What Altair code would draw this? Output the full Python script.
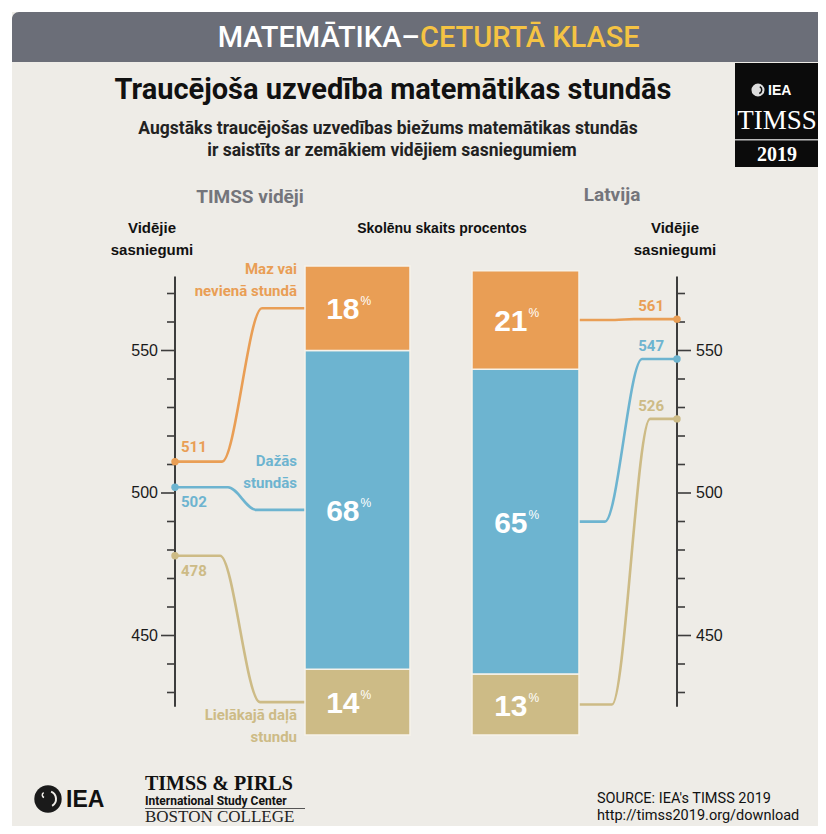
import altair as alt
import pandas as pd

# ---------------- data ----------------
categories = ["Maz vai nevienā stundā", "Dažās stundās", "Lielākajā daļā stundu"]
groups = ["TIMSS vidēji", "Latvija"]
pct_timss = [18, 68, 14]
pct_latvia = [21, 65, 13]
score_timss = [511, 502, 478]
score_latvia = [561, 547, 526]
tick_values = [430, 440, 450, 460, 470, 480, 490, 500, 510, 520, 530, 540, 550, 560, 570]
tick_labels = [450, 500, 550]

# ---------------- styles / layout ----------------
BAR_COLORS = ["#EDA257", "#6BADCA", "#D4BE80"]
LINE_COLORS = ["#E99E55", "#6DB4D0", "#CDBB86"]
BG = "#EEECE7"
FONT_C = "Roboto, sans-serif"
FONT_S = "Liberation Serif, DejaVu Serif, serif"
FONT_A = "Liberation Sans, Arial, sans-serif"

W, H = 810, 818
OX, OY = 8, 8


def px(x):
    return x - OX


def py(y):
    return y - OY


# score scale: 500 at page y=493, 2.85 px per point
S500, PPP = 493, 2.85
score_dom = [500 - (OY + H - S500) / PPP, 500 + (S500 - OY) / PPP]
# percent scale: 0% at page y=735, 4.69 px per percent
P0, PPC = 735, 4.69
pct_dom = [(P0 - (OY + H)) / PPC, (P0 - OY) / PPC]
x_dom = [OX, OX + W]


def score_of_pct(p):
    return 500 - ((P0 - p * PPC) - S500) / PPP


XS = alt.Scale(domain=x_dom, nice=False, zero=False)
YS = alt.Scale(domain=score_dom, nice=False, zero=False)
YP = alt.Scale(domain=pct_dom, nice=False, zero=False)

BAR_X = {"TIMSS vidēji": (305, 410), "Latvija": (472, 579)}
AXIS_X = {"TIMSS vidēji": 175, "Latvija": 677}
LEFT_KNOTS = [(222, 262), (228, 256), (220, 260)]
RIGHT_KNOTS = [(615, 634), (605, 642), (612, 650)]

# ---------------- tables ----------------
bar_rows, line_rows, dot_rows = [], [], []
for g, pcts, scores in [(groups[0], pct_timss, score_timss), (groups[1], pct_latvia, score_latvia)]:
    cum = 0
    mids = {}
    for i in [2, 1, 0]:  # stacked from bottom
        start, end = cum, cum + pcts[i]
        cum = end
        mids[i] = (start + end) / 2
        bar_rows.append(dict(group=g, cat=categories[i], ci=i, pct=pcts[i], start=start, end=end,
                             mid=mids[i], x0=BAR_X[g][0], x1=BAR_X[g][1],
                             xc=(BAR_X[g][0] + BAR_X[g][1]) / 2, label=str(pcts[i])))
    for i in range(3):
        ms = score_of_pct(mids[i])
        key = g + categories[i]
        if g == groups[0]:
            k1, k2 = LEFT_KNOTS[i]
            pts = [(AXIS_X[g], scores[i]), (k1, scores[i]), (k2, ms), (BAR_X[g][0], ms)]
        else:
            k1, k2 = RIGHT_KNOTS[i]
            pts = [(BAR_X[g][1], ms), (k1, ms), (k2, scores[i]), (AXIS_X[g], scores[i])]
        for o, (xx, ss) in enumerate(pts):
            line_rows.append(dict(key=key, cat=categories[i], ord=o, x=xx, s=ss))
        dot_rows.append(dict(group=g, cat=categories[i], ci=i, x=AXIS_X[g], s=scores[i],
                             label=str(scores[i])))

bars = pd.DataFrame(bar_rows)
lines = pd.DataFrame(line_rows)
dots = pd.DataFrame(dot_rows)

cat_bar = alt.Color("cat:N", scale=alt.Scale(domain=categories, range=BAR_COLORS), legend=None)
cat_line = alt.Color("cat:N", scale=alt.Scale(domain=categories, range=LINE_COLORS), legend=None)

one = pd.DataFrame({"a": [0]})


def rect(x0, x1, y0, y1, color, **kw):
    return alt.Chart(one).mark_rect(color=color, **kw).encode(
        x=alt.value(px(x0)), x2=alt.value(px(x1)), y=alt.value(py(y0)), y2=alt.value(py(y1)))


def text(s, x, y, size, color="#1a1a1a", align="center", weight="bold", font=FONT_C, baseline="middle"):
    return alt.Chart(pd.DataFrame({"t": [s]})).mark_text(
        align=align, baseline=baseline, fontSize=size, fontWeight=weight, font=font, color=color
    ).encode(x=alt.value(px(x)), y=alt.value(py(y)), text="t:N")


RIGHT_EDGE = OX + W
layers = []
# background panel and header band
layers.append(rect(12, RIGHT_EDGE, 12, OY + H, BG))
layers.append(rect(12, RIGHT_EDGE, 12, 62, "#6B6E78", cornerRadiusTopLeft=7))
layers.append(text("MATEMĀTIKA–", 420, 38, 29, color="white", align="right", weight=500))
layers.append(text("CETURTĀ KLASE", 420, 38, 29, color="#F5C343", align="left", weight=500))

# title / subtitle
layers.append(text("Traucējoša uzvedība matemātikas stundās", 393, 90, 29, color="#111111"))
layers.append(text("Augstāks traucējošas uzvedības biežums matemātikas stundās", 388, 129, 17.5, color="#222222"))
layers.append(text("ir saistīts ar zemākiem vidējiem sasniegumiem", 392, 151, 17.5, color="#222222"))

# TIMSS logo box
layers.append(rect(735, RIGHT_EDGE, 63, 167, "#0b0b0b"))
layers.append(rect(735, RIGHT_EDGE, 139, 140.5, "#bbbbbb"))
layers.append(alt.Chart(one).mark_circle(color="#dddddd", opacity=1, size=170).encode(
    x=alt.value(px(758)), y=alt.value(py(90))))
layers.append(alt.Chart(one).mark_arc(color="#0b0b0b", innerRadius=3, outerRadius=4.5).encode(
    x=alt.value(px(758)), y=alt.value(py(90)), theta=alt.value(0.5), theta2=alt.value(2.8)))
layers.append(text("IEA", 768, 91, 14, color="white", align="left", font=FONT_A))
layers.append(text("TIMSS", 777, 121, 27, color="white", weight="normal", font=FONT_S))
layers.append(text("2019", 777, 155, 20, color="white", weight="bold", font=FONT_S))

# group headings
layers.append(text("TIMSS vidēji", 250, 197, 19, color="#74757b"))
layers.append(text("Latvija", 612, 195, 19, color="#74757b"))
layers.append(text("Vidējie", 152, 228, 15, color="#111111", font=FONT_A))
layers.append(text("sasniegumi", 152, 250, 15, color="#111111", font=FONT_A))
layers.append(text("Vidējie", 675, 228, 15, color="#111111", font=FONT_A))
layers.append(text("sasniegumi", 675, 250, 15, color="#111111", font=FONT_A))
layers.append(text("Skolēnu skaits procentos", 442, 229, 14, color="#111111", font=FONT_A))

# axes (drawn through the score scale)
axis_df = pd.DataFrame({"lo": [425, 425], "hi": [576, 576], "x": [AXIS_X[groups[0]], AXIS_X[groups[1]]]})
layers.append(alt.Chart(axis_df).mark_rule(color="#3d3d3d", strokeWidth=2).encode(
    x=alt.X("x:Q", scale=XS, axis=None), y=alt.Y("lo:Q", scale=YS, axis=None), y2="hi:Q"))
ticks = pd.DataFrame({"v": tick_values})
ticks["major"] = ticks["v"].isin(tick_labels)
for g in groups:
    ax = AXIS_X[g]
    sign = -1 if g == groups[0] else 1
    for major, ln in [(False, 8), (True, 14)]:
        layers.append(alt.Chart(ticks[ticks["major"] == major]).mark_rule(color="#3d3d3d", strokeWidth=1.6).encode(
            x=alt.value(px(ax)), x2=alt.value(px(ax + sign * ln)),
            y=alt.Y("v:Q", scale=YS, axis=None)))
lab = pd.DataFrame({"v": tick_labels, "t": [str(v) for v in tick_labels]})
layers.append(alt.Chart(lab).mark_text(align="right", baseline="middle", fontSize=16, font=FONT_A,
                                       color="#1a1a1a").encode(
    x=alt.value(px(158)), y=alt.Y("v:Q", scale=YS, axis=None), text="t:N"))
layers.append(alt.Chart(lab).mark_text(align="left", baseline="middle", fontSize=16, font=FONT_A,
                                       color="#1a1a1a").encode(
    x=alt.value(px(696)), y=alt.Y("v:Q", scale=YS, axis=None), text="t:N"))

# connectors
layers.append(alt.Chart(lines).mark_line(interpolate="monotone", strokeWidth=2.6).encode(
    x=alt.X("x:Q", scale=XS, axis=None), y=alt.Y("s:Q", scale=YS, axis=None),
    color=cat_line, detail="key:N", order="ord:Q"))
layers.append(alt.Chart(dots).mark_circle(size=55, opacity=1).encode(
    x=alt.X("x:Q", scale=XS, axis=None), y=alt.Y("s:Q", scale=YS, axis=None), color=cat_line))

# score labels
for g, ci_list, dy, xx, al in [
    (groups[0], [0], -15, 181, "left"),
    (groups[0], [1, 2], 15, 181, "left"),
    (groups[1], [0, 1, 2], -13, 664, "right"),
]:
    sub = dots[(dots["group"] == g) & (dots["ci"].isin(ci_list))]
    layers.append(alt.Chart(sub).mark_text(
        align=al, baseline="middle", dy=dy, fontSize=15, fontWeight="bold", font=FONT_C).encode(
        x=alt.value(px(xx)), y=alt.Y("s:Q", scale=YS, axis=None), text="label:N", color=cat_line))

# stacked percent bars
layers.append(alt.Chart(bars).mark_bar(stroke="#F6F2EA", strokeWidth=1.5).encode(
    x=alt.X("x0:Q", scale=XS, axis=None), x2="x1:Q",
    y=alt.Y("start:Q", scale=YP, axis=None), y2="end:Q", color=cat_bar))
layers.append(alt.Chart(bars).mark_text(align="right", baseline="middle", dx=2, dy=2, fontSize=30,
                                        fontWeight="bold", font=FONT_A, color="white").encode(
    x=alt.X("xc:Q", scale=XS, axis=None), y=alt.Y("mid:Q", scale=YP, axis=None), text="label:N"))
layers.append(alt.Chart(bars).mark_text(align="left", baseline="middle", dx=3, dy=-7, fontSize=12,
                                        font=FONT_A, color="white", text="%").encode(
    x=alt.X("xc:Q", scale=XS, axis=None), y=alt.Y("mid:Q", scale=YP, axis=None)))

# category labels
for (l1, l2), col, y1 in [(("Maz vai", "nevienā stundā"), LINE_COLORS[0], 269),
                          (("Dažās", "stundās"), LINE_COLORS[1], 461),
                          (("Lielākajā daļā", "stundu"), LINE_COLORS[2], 715)]:
    layers.append(text(l1, 297, y1, 15, color=col, align="right"))
    layers.append(text(l2, 297, y1 + 22, 15, color=col, align="right"))

# footer
layers.append(alt.Chart(one).mark_circle(color="#1a1a1a", opacity=1, size=750).encode(
    x=alt.value(px(48)), y=alt.value(py(799))))
layers.append(alt.Chart(one).mark_arc(color=BG, innerRadius=7, outerRadius=9).encode(
    x=alt.value(px(48)), y=alt.value(py(799)), theta=alt.value(0.4), theta2=alt.value(2.6)))
layers.append(alt.Chart(one).mark_arc(color=BG, innerRadius=2, outerRadius=3.5).encode(
    x=alt.value(px(45)), y=alt.value(py(795)), theta=alt.value(3.5), theta2=alt.value(5.8)))
layers.append(text("IEA", 66, 800, 23, color="#111111", align="left", font=FONT_A))
layers.append(text("TIMSS & PIRLS", 145, 784, 20, color="#111111", align="left", font=FONT_S))
layers.append(text("International Study Center", 145, 801, 12, color="#111111", align="left"))
layers.append(rect(145, 305, 808, 809, "#555555"))
layers.append(text("BOSTON COLLEGE", 145, 817, 17, color="#222222", align="left", weight="normal",
                   font=FONT_S))
layers.append(text("SOURCE: IEA's TIMSS 2019", 597, 799, 14.5, color="#111111", align="left", weight="normal"))
layers.append(text("http://timss2019.org/download", 597, 816, 14.5, color="#111111", align="left",
                   weight="normal"))

chart = alt.layer(*layers).resolve_scale(y="independent").properties(
    width=W, height=H, padding=0, background="white",
    autosize=alt.AutoSizeParams(type="none")
).configure_view(stroke=None)

chart.save("out.html", embed_options={"renderer": "svg", "actions": False})
